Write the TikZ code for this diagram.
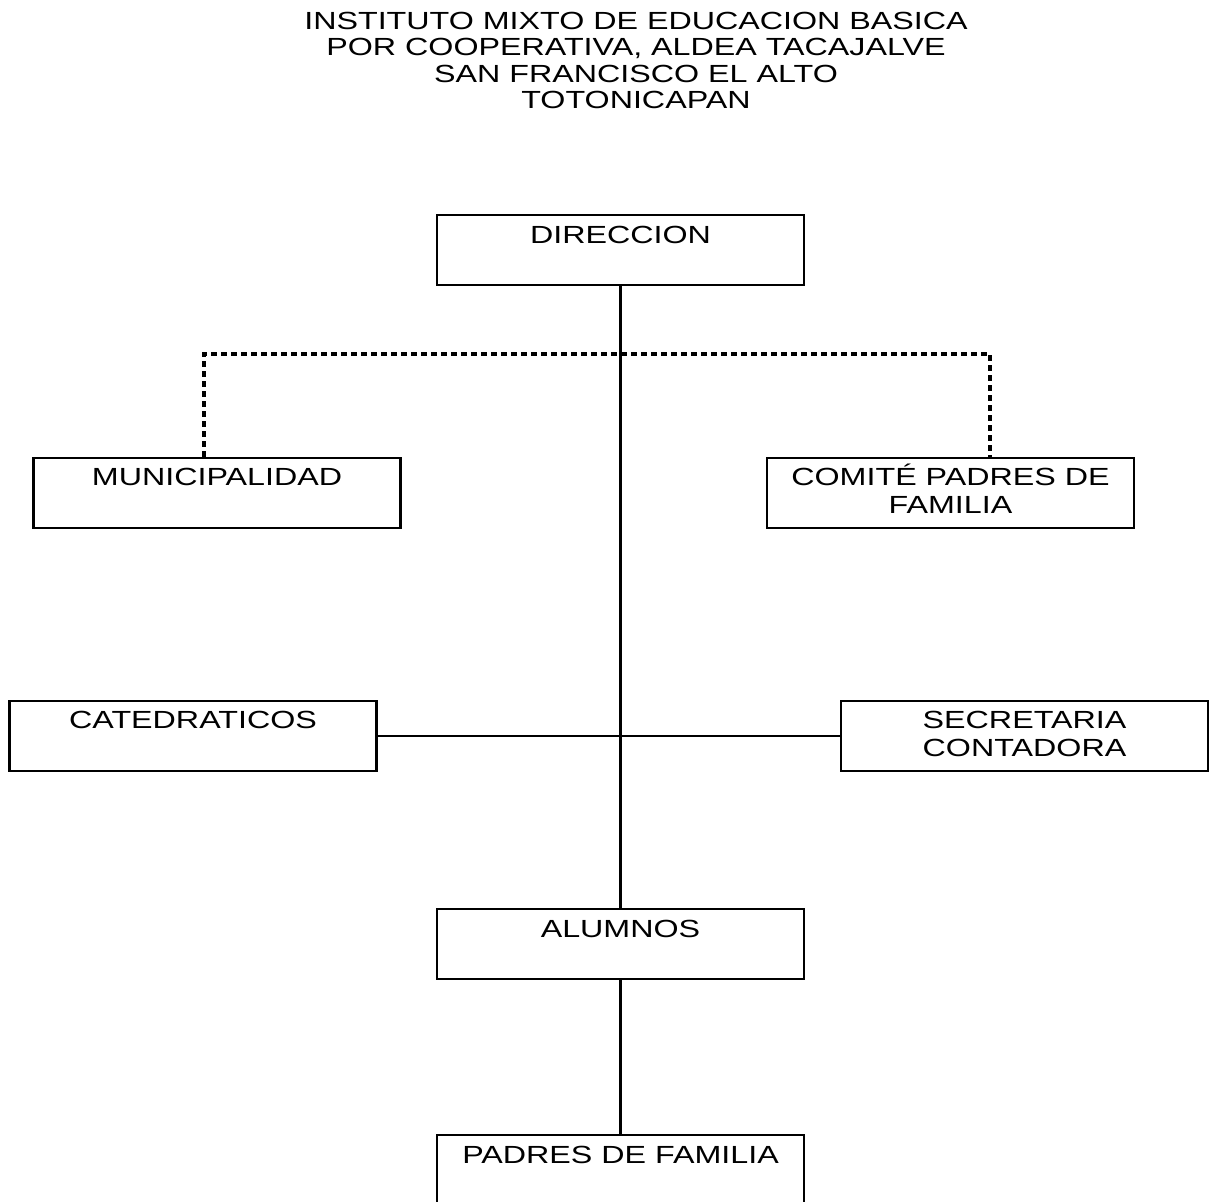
\documentclass[tikz,border=0pt]{standalone}
\usepackage{fontspec}
\setmainfont{Liberation Sans}[FakeStretch=1.3]
\begin{document}
\begin{tikzpicture}[x=1pt,y=-1pt,
  box/.style={draw, line width=2.8pt, minimum width=367pt, minimum height=70pt, inner sep=0pt},
  lbl/.style={anchor=base, align=center, inner sep=0pt, font=\fontsize{24.8}{28}\selectfont},
  ttl/.style={anchor=base, align=center, inner sep=0pt, font=\fontsize{24.8}{26.5}\selectfont},
  conn/.style={line width=2.4pt},
  dotline/.style={line width=4.5pt, dash pattern=on 6pt off 4pt}]
\useasboundingbox (0,0) rectangle (1209,1201);
\node[ttl] (title) at (636,109) {INSTITUTO MIXTO DE EDUCACION BASICA\\POR COOPERATIVA, ALDEA TACAJALVE\\SAN FRANCISCO EL ALTO\\TOTONICAPAN};
\node[box] (dir) at (620.5,250) {};
\node[box] (muni) at (217,493) {};
\node[box] (comite) at (950.5,493) {};
\node[box] (cat) at (193,736) {};
\node[box] (sec) at (1024.5,736) {};
\node[box] (alum) at (620.5,944) {};
\node[box] (padres) at (620.5,1170) {};
\node[lbl] (dir-t) at ([yshift=-30pt]dir.north) {DIRECCION};
\node[lbl] (muni-t) at ([yshift=-29pt]muni.north) {MUNICIPALIDAD};
\node[lbl] (comite-t) at ([yshift=-57pt]comite.north) {COMITÉ PADRES DE\\FAMILIA};
\node[lbl] (cat-t) at ([yshift=-29pt]cat.north) {CATEDRATICOS};
\node[lbl] (sec-t) at ([yshift=-57pt]sec.north) {SECRETARIA\\CONTADORA};
\node[lbl] (alum-t) at ([yshift=-30pt]alum.north) {ALUMNOS};
\node[lbl] (padres-t) at ([yshift=-30pt]padres.north) {PADRES DE FAMILIA};
\coordinate (dj) at (621,354);
\draw[conn] (dir.south) -- (alum.north);
\draw[conn] (alum.south) -- (padres.north);
\draw[conn] (cat.east) -- (sec.west);
\draw[dotline] ([xshift=-13pt]muni.north) |- (dj) -| ([xshift=39.5pt]comite.north);
\end{tikzpicture}
\end{document}
